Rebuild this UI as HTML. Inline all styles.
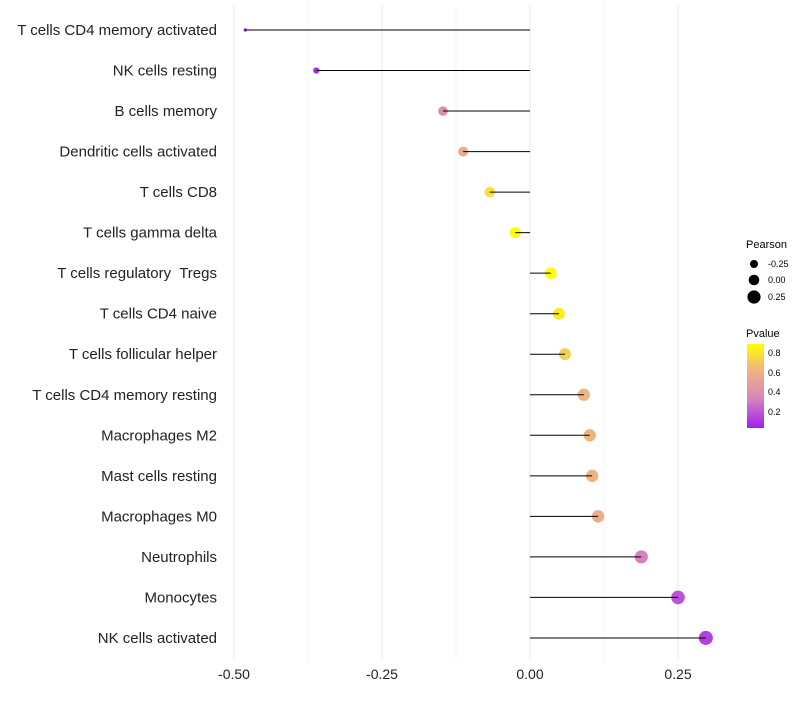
<!DOCTYPE html>
<html><head><meta charset="utf-8"><style>
body{margin:0;background:#fff;font-family:"Liberation Sans",sans-serif}
text{white-space:pre}
</style></head><body>
<svg id="chart" width="800" height="700" xmlns="http://www.w3.org/2000/svg" font-family="Liberation Sans, sans-serif" xml:space="preserve">
<defs><linearGradient id="pg" x1="0" y1="1" x2="0" y2="0">
<stop offset="0" stop-color="#A020F0"/><stop offset="0.36" stop-color="#D987B8"/><stop offset="0.7" stop-color="#F0B47E"/><stop offset="1" stop-color="#FFFF00"/></linearGradient></defs>
<g id="grid"></g>
<g id="marks"></g>
<g id="labels"></g>
<g id="xt"></g>
<g>
<text x="746" y="248" font-size="11">Pearson</text>
<circle cx="754" cy="264" r="4" fill="#000"/>
<text x="768" y="267" font-size="9">-0.25</text>
<circle cx="754" cy="280" r="5.3" fill="#000"/>
<text x="768" y="283" font-size="9">0.00</text>
<circle cx="754" cy="297" r="6.6" fill="#000"/>
<text x="768" y="300" font-size="9">0.25</text>
</g>
<g>
<text x="746" y="337" font-size="11">Pvalue</text>
<rect x="747" y="344" width="17" height="84" fill="url(#pg)"/>
<text x="768" y="356" font-size="9">0.8</text>
<text x="768" y="376" font-size="9">0.6</text>
<text x="768" y="395" font-size="9">0.4</text>
<text x="768" y="415" font-size="9">0.2</text>
</g>
</svg>
<script>
const categories=["T cells CD4 memory activated","NK cells resting","B cells memory","Dendritic cells activated","T cells CD8","T cells gamma delta","T cells regulatory  Tregs","T cells CD4 naive","T cells follicular helper","T cells CD4 memory resting","Macrophages M2","Mast cells resting","Macrophages M0","Neutrophils","Monocytes","NK cells activated"];
const pearson=[-0.481,-0.361,-0.147,-0.113,-0.068,-0.025,0.035,0.049,0.059,0.091,0.101,0.105,0.115,0.188,0.25,0.297];
const pvalue=[0.06,0.08,0.38,0.58,0.78,0.88,0.88,0.82,0.72,0.62,0.62,0.62,0.58,0.32,0.18,0.13];
const xTicks=[-0.5,-0.25,0,0.25];
const xTickLabels=["-0.50","-0.25","0.00","0.25"];
const NS="http://www.w3.org/2000/svg";
const x=v=>530+v*592;
const y=i=>30+i*40.53;
const rad=v=>Math.sqrt(Math.max(2.5,3+60*(v+0.481)));
const stopsT=[0,0.36,0.7,1];
const stopsC=[[160,32,240],[217,135,184],[240,180,126],[255,255,0]];
function col(p){let t=Math.max(0,Math.min(1,(p-0.03)/0.855));let k=0;while(k<2&&t>stopsT[k+1])k++;
const f=(t-stopsT[k])/(stopsT[k+1]-stopsT[k]);const c=stopsC[k].map((a,j)=>Math.round(a+(stopsC[k+1][j]-a)*f));return `rgb(${c})`;}
function mk(tag,at,parent){const e=document.createElementNS(NS,tag);for(const k in at)e.setAttribute(k,at[k]);document.getElementById(parent).appendChild(e);return e;}
[-0.5,-0.375,-0.25,-0.125,0,0.125,0.25].forEach((v,i)=>{
const l=mk('line',{x1:x(v),x2:x(v),y1:5,y2:660,stroke:i%2?'#f4f4f4':'#ebebeb','stroke-width':1},'grid');

});
xTicks.forEach((v,i)=>{const t=mk('text',{x:x(v),y:679,'font-size':14,'text-anchor':'middle',fill:'#222'},'xt');t.textContent=xTickLabels[i];

});
categories.forEach((c,i)=>{
const t=mk('text',{x:217,y:y(i)+5,'font-size':15,'text-anchor':'end',fill:'#222'},'labels');t.textContent=c;


const d=mk('circle',{cx:x(pearson[i]),cy:y(i),r:rad(pearson[i]),fill:col(pvalue[i])},'marks');


const l=mk('line',{x1:x(0),x2:x(pearson[i]),y1:y(i),y2:y(i),stroke:'#000','stroke-width':1},'marks');


});
</script>
</body></html>
